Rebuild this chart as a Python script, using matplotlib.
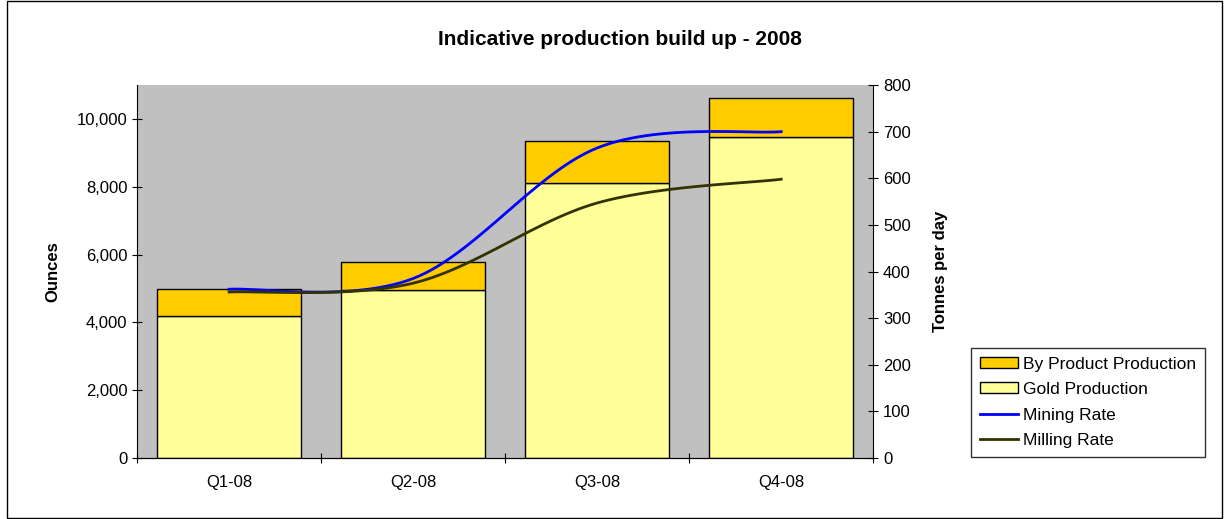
import numpy as np
import matplotlib.pyplot as plt
from matplotlib.patches import Patch, Rectangle
from matplotlib.lines import Line2D
from matplotlib.ticker import FuncFormatter

plt.rcParams['font.family'] = ['Liberation Sans', 'DejaVu Sans']

# data
quarters = ["Q1-08", "Q2-08", "Q3-08", "Q4-08"]
gold = [4200, 4950, 8100, 9480]
by_product = [780, 830, 1260, 1130]
mining_rate = [362, 385, 665, 700]
milling_rate = [356, 375, 547, 598]


def smooth(xs, ys, n=30):
    # Excel-like smoothed line: cubic bezier through the points
    xs = np.asarray(xs, float)
    ys = np.asarray(ys, float)
    px = np.concatenate([[xs[0]], xs, [xs[-1]]])
    py = np.concatenate([[ys[0]], ys, [ys[-1]]])
    ox, oy = [], []
    t = np.linspace(0, 1, n)
    for i in range(1, len(px) - 2):
        p0 = np.array([px[i], py[i]])
        p3 = np.array([px[i + 1], py[i + 1]])
        c1 = p0 + (np.array([px[i + 1], py[i + 1]]) - np.array([px[i - 1], py[i - 1]])) / 6
        c2 = p3 - (np.array([px[i + 2], py[i + 2]]) - np.array([px[i], py[i]])) / 6
        b = ((1 - t) ** 3)[:, None] * p0 + (3 * (1 - t) ** 2 * t)[:, None] * c1 \
            + (3 * (1 - t) * t ** 2)[:, None] * c2 + (t ** 3)[:, None] * p3
        ox.extend(b[:, 0])
        oy.extend(b[:, 1])
    return ox, oy


fig = plt.figure(figsize=(12.27, 5.19), dpi=100)
fig.patches.append(Rectangle((0.006, 0.002), 0.99, 0.996, transform=fig.transFigure,
                             fill=False, edgecolor='black', linewidth=1))

ax = fig.add_axes([0.1117, 0.1175, 0.6, 0.7187])
ax.set_facecolor('#C0C0C0')
x = np.arange(len(quarters))
ax.bar(x, gold, width=0.78, color='#FFFF99', edgecolor='black', linewidth=1)
ax.bar(x, by_product, width=0.78, bottom=gold, color='#FFCC00', edgecolor='black', linewidth=1)
ax.set_xlim(-0.5, 3.5)
ax.set_ylim(0, 11000)
ax.set_yticks(range(0, 10001, 2000))
ax.yaxis.set_major_formatter(FuncFormatter(lambda v, p: f"{int(v):,}"))
ax.set_xticks(np.arange(-0.5, 3.6, 1))
ax.set_xticklabels([])
ax.set_xticks(x, minor=True)
ax.set_xticklabels(quarters, minor=True)
ax.tick_params(axis='x', which='minor', length=0, pad=12, labelsize=12)
ax.tick_params(axis='both', which='major', direction='inout', length=7, labelsize=12)
ax.set_ylabel("Ounces", fontsize=12, fontweight='bold', labelpad=12)
for s in ['top', 'right']:
    ax.spines[s].set_visible(False)

ax2 = ax.twinx()
ax2.set_ylim(0, 800)
ax2.set_yticks(range(0, 801, 100))
ax2.tick_params(axis='y', direction='inout', length=7, labelsize=12)
ax2.set_ylabel("Tonnes per day", fontsize=12, fontweight='bold', labelpad=16)
ax2.spines['top'].set_visible(False)
ax2.spines['left'].set_visible(False)

mx, my = smooth(x, mining_rate)
ax2.plot(mx, my, color='#0000FF', linewidth=2)
lx, ly = smooth(x, milling_rate)
ax2.plot(lx, ly, color='#333300', linewidth=2)

fig.text(0.5053, 0.923, "Indicative production build up - 2008", ha='center', va='center',
         fontsize=15, fontweight='bold')

handles = [Patch(facecolor='#FFCC00', edgecolor='black'),
           Patch(facecolor='#FFFF99', edgecolor='black'),
           Line2D([], [], color='#0000FF', linewidth=2),
           Line2D([], [], color='#333300', linewidth=2)]
labels = ["By Product Production", "Gold Production", "Mining Rate", "Milling Rate"]
fig.legend(handles, labels, loc='upper left', bbox_to_anchor=(0.7914, 0.3295),
           borderaxespad=0, fontsize=12.5, frameon=True, fancybox=False, edgecolor='black',
           handlelength=2.2, handleheight=0.6, handletextpad=0.3, labelspacing=0.6,
           borderpad=0.5)

fig.savefig("out.png", dpi=100)
